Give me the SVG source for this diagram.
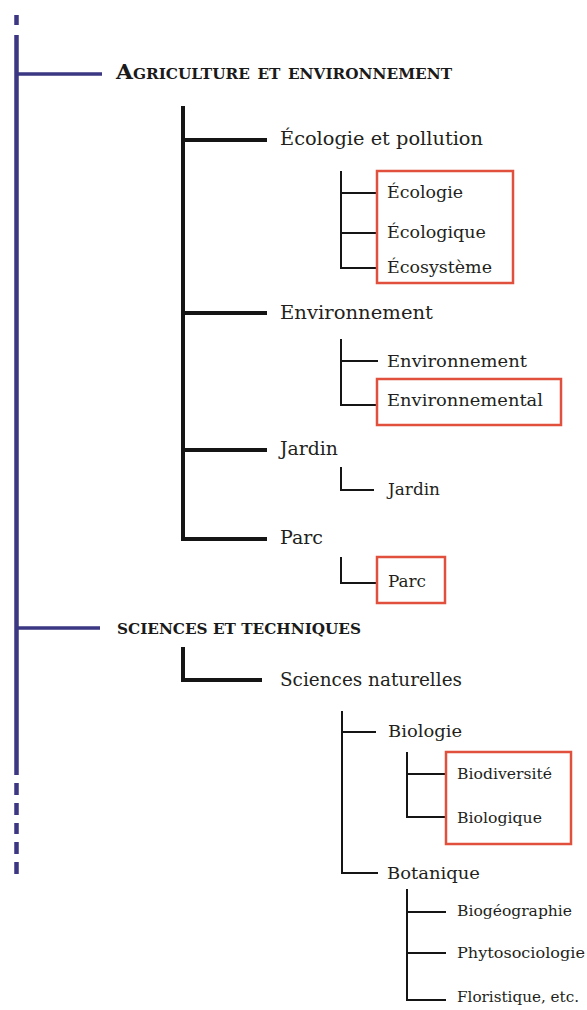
<svg xmlns="http://www.w3.org/2000/svg" width="587" height="1010" viewBox="0 0 587 1010">
<style>
.bg{fill:#ffffff}
.blue{stroke:#3b3782;fill:none;stroke-linecap:butt}
.thick{stroke:#151515;stroke-width:4;fill:none;stroke-linecap:square}
.thin{stroke:#151515;stroke-width:2;fill:none;stroke-linecap:square}
.box{fill:none;stroke:#e0503c;stroke-width:2.5}
.t{font-family:"DejaVu Serif","Liberation Serif",serif;fill:#231f20}
.l2{font-size:19px}
.l3{font-size:17px}
.l4{font-size:15.5px}
.h{font-family:"DejaVu Serif","Liberation Serif",serif;font-weight:bold;fill:#1a1a1a}
</style>
<rect class="bg" x="0" y="0" width="587" height="1010"/>
<g id="connectors">
  <path class="blue" stroke-width="4.5" d="M16.5 15V25M16.5 35V775M16.5 783V795M16.5 803V815M16.5 823V834M16.5 842V854M16.5 862V874"/>
  <path class="blue" stroke-width="3.5" d="M16.5 74H102M16.5 628H100"/>
  <path class="thick" d="M183 108V539M183 140H265M183 313H265M183 450H265M183 539H265"/>
  <path class="thick" d="M183 649V680H260"/>
  <path class="thin" d="M341 172V268M341 193H377M341 233H377M341 268H377"/>
  <path class="thin" d="M341 340V405M341 361H377M341 405H377"/>
  <path class="thin" d="M341 468V490H373"/>
  <path class="thin" d="M341 558V583H377"/>
  <path class="thin" d="M342 712V873M342 732H375M342 873H377"/>
  <path class="thin" d="M407 753V817M407 774H446M407 817H446"/>
  <path class="thin" d="M407 890V1000M407 912H445M407 953H445M407 1000H445"/>
</g>
<g id="n-agri"><text class="h" x="116" y="78.5" font-size="20" font-variant="small-caps" textLength="336" lengthAdjust="spacingAndGlyphs">Agriculture et environnement</text></g>
<g id="n-ecopol"><text class="t l2" x="280" y="145" textLength="203" lengthAdjust="spacingAndGlyphs">Écologie et pollution</text></g>
<g id="n-ecobox"><rect class="box" x="377" y="171" width="136" height="112"/></g>
<g id="n-ecologie"><text class="t l3" x="387" y="198" textLength="76" lengthAdjust="spacingAndGlyphs">Écologie</text></g>
<g id="n-ecologique"><text class="t l3" x="387" y="238" textLength="99" lengthAdjust="spacingAndGlyphs">Écologique</text></g>
<g id="n-ecosysteme"><text class="t l3" x="387" y="273" textLength="105" lengthAdjust="spacingAndGlyphs">Écosystème</text></g>
<g id="n-env"><text class="t l2" x="280" y="319" textLength="153" lengthAdjust="spacingAndGlyphs">Environnement</text></g>
<g id="n-env2"><text class="t l3" x="387" y="367" textLength="140" lengthAdjust="spacingAndGlyphs">Environnement</text></g>
<g id="n-envtal"><rect class="box" x="377" y="379" width="184" height="46"/><text class="t l3" x="387" y="406" textLength="156" lengthAdjust="spacingAndGlyphs">Environnemental</text></g>
<g id="n-jardin"><text class="t l2" x="280" y="455" textLength="58" lengthAdjust="spacingAndGlyphs">Jardin</text></g>
<g id="n-jardin2"><text class="t l3" x="388" y="495" textLength="52" lengthAdjust="spacingAndGlyphs">Jardin</text></g>
<g id="n-parc"><text class="t l2" x="280" y="544" textLength="43" lengthAdjust="spacingAndGlyphs">Parc</text></g>
<g id="n-parc2"><rect class="box" x="377" y="557" width="68" height="46"/><text class="t l3" x="388" y="587" textLength="38" lengthAdjust="spacingAndGlyphs">Parc</text></g>
<g id="n-sci"><text class="h" x="117" y="633.5" font-size="15.5" textLength="244" lengthAdjust="spacingAndGlyphs">SCIENCES ET TECHNIQUES</text></g>
<g id="n-scinat"><text class="t l2" x="280" y="686" textLength="182" lengthAdjust="spacingAndGlyphs">Sciences naturelles</text></g>
<g id="n-bio"><text class="t l3" x="388" y="737" textLength="74" lengthAdjust="spacingAndGlyphs">Biologie</text></g>
<g id="n-biobox"><rect class="box" x="446" y="752" width="125" height="92"/></g>
<g id="n-biodiv"><text class="t l4" x="457" y="779" textLength="95" lengthAdjust="spacingAndGlyphs">Biodiversité</text></g>
<g id="n-biologique"><text class="t l4" x="457" y="823" textLength="85" lengthAdjust="spacingAndGlyphs">Biologique</text></g>
<g id="n-bota"><text class="t l3" x="387" y="879" textLength="93" lengthAdjust="spacingAndGlyphs">Botanique</text></g>
<g id="n-biogeo"><text class="t l4" x="457" y="916" textLength="115" lengthAdjust="spacingAndGlyphs">Biogéographie</text></g>
<g id="n-phyto"><text class="t l4" x="457" y="958" textLength="128" lengthAdjust="spacingAndGlyphs">Phytosociologie</text></g>
<g id="n-flor"><text class="t l4" x="457" y="1002" textLength="122" lengthAdjust="spacingAndGlyphs">Floristique, etc.</text></g>
</svg>
